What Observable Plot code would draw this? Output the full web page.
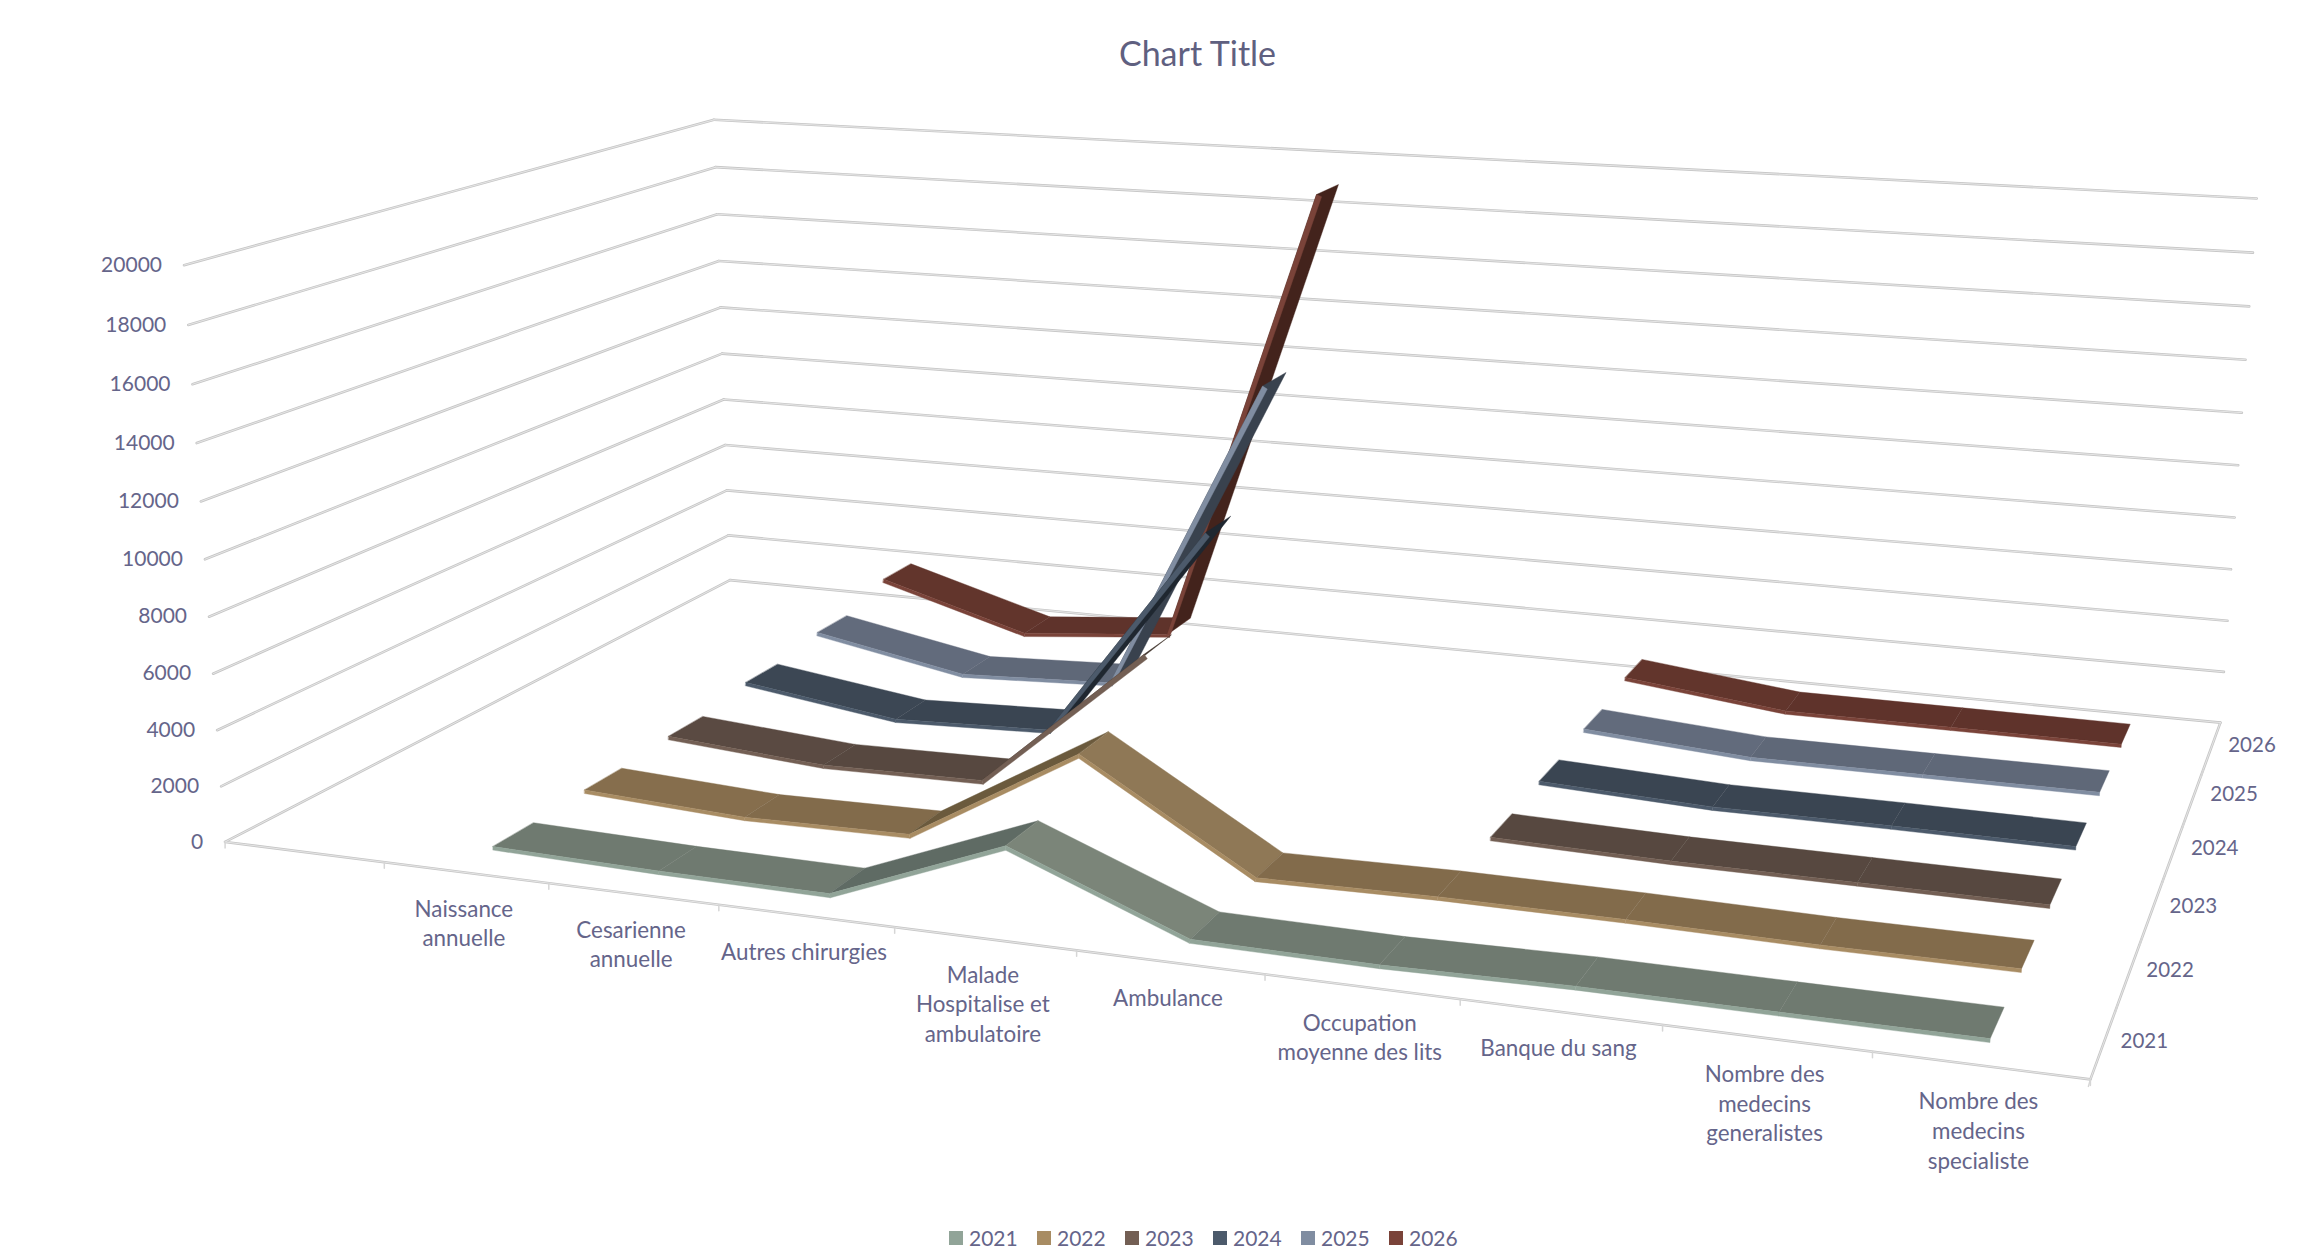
<!DOCTYPE html>
<html><head><meta charset="utf-8">
<script src="https://cdn.jsdelivr.net/npm/d3@7"></script>
<script src="https://cdn.jsdelivr.net/npm/@observablehq/plot@0.6"></script>
<style>
html,body{margin:0;padding:0;background:#fff;font-family:Lato,"Open Sans",sans-serif;color:#65658a}
#title{height:100px;width:2315px;box-sizing:border-box;padding-left:80px;text-align:center;font-size:34px;line-height:106px;color:#5f6080}
#legend{height:58px;position:relative;font-size:21px;color:#65658a}
#legend span{position:absolute;top:28px;line-height:20px}
#legend i{position:absolute;top:31px;width:14px;height:14px}
svg{display:block}
</style></head><body>
<div id="title">Chart Title</div><div id="chart"></div><div id="legend"></div>
<script>
const categories=["","Naissance\nannuelle","Cesarienne\nannuelle","Autres chirurgies","Malade\nHospitalise et\nambulatoire","Ambulance","Occupation\nmoyenne des lits","Banque du sang","Nombre des\nmedecins\ngeneralistes","Nombre des\nmedecins\nspecialiste"];
const years=[2021,2022,2023,2024,2025,2026];
const v2021=[null,287,150,98,2467,80,20,124,107,104];
const v2022=[null,390,85,163,3708,80,175,155,72,77];
const v2023=[null,560,123,213,5500,null,231,105,90,69];
const v2024=[null,911,85,305,8410,null,345,85,96,64];
const v2025=[null,1263,150,422,12620,null,491,60,76,92];
const v2026=[null,1911,186,736,18940,null,776,66,66,60];
const series=[v2021,v2022,v2023,v2024,v2025,v2026];
const legendColors=["#91a498","#a88c63","#735f54","#4c5a6b","#808da1","#7a4339"];
const surfaceColors=["#6f7a70","#826b4b","#574840","#3a4552","#5f6878","#5f332b"];
const riseColors=["#5f6b64","#6b5a3d","#3f332c","#1f2730","#39424e","#43231c"];
const fallColors=["#7b8579","#8f7856","#625148","#424e5c","#697283","#66352d"];
const valueTicks=d3.range(0,20001,2000);
const vMax=20000;

// Perspective camera of the 3-D box, fitted to the box's visible corners
const anchors=[[0,0,0,225,841],[0,1,0,729,580],[1,1,0,2220,722],[1,0,0,2090,1079],[0,0,1,183,265],[0,1,1,714,119],[1,1,1,2256,198]];
function fit(){
  const A=[],b=[];
  for(const [u,d,v,sx,sy] of anchors){const X=sx/1000,Y=sy/1000;
    A.push([u,d,v,1,0,0,0,0,-X*u,-X*d,-X*v]);b.push(X);
    A.push([0,0,0,0,u,d,v,1,-Y*u,-Y*d,-Y*v]);b.push(Y);}
  const n=11,M=d3.range(n).map(i=>d3.range(n+1).map(j=>{let s=0;for(let r=0;r<A.length;r++)s+=A[r][i]*(j<n?A[r][j]:b[r]);return s+(i===j?1e-9:0);}));
  for(let i=0;i<n;i++){let p=i;for(let r=i+1;r<n;r++)if(Math.abs(M[r][i])>Math.abs(M[p][i]))p=r;[M[i],M[p]]=[M[p],M[i]];
    for(let r=0;r<n;r++)if(r!==i){const f=M[r][i]/M[i][i];for(let c=i;c<=n;c++)M[r][c]-=f*M[i][c];}}
  return M.map((r,i)=>r[n]/r[i]);
}
const P=fit();
function proj(u,d,val){const v=val/vMax,w=P[8]*u+P[9]*d+P[10]*v+1;
  return [1000*(P[0]*u+P[1]*d+P[2]*v+P[3])/w,1000*(P[4]*u+P[5]*d+P[6]*v+P[7])/w];}

const uOf=k=>(k+0.5)/categories.length, dOf=i=>(i+0.5)/years.length;
const halfW=0.036;
const Su=1865,Sv=0.029; // px per unit of u and per unit of value, for the ribbon's thickness
function shade(hex,f){const c=d3.rgb(hex);return d3.rgb(c.r*f,c.g*f,c.b*f).formatHex();}
const polys=[];let pid=0;
function poly(pts,c){pid++;for(const p of pts)polys.push({id:pid,px:p[0],py:p[1],c});}
function segNormal(s,k){ // thickness vector of the segment k..k+1, normal to it in the (u,value) plane
  const dx=Su*(uOf(k+1)-uOf(k)),dy=Sv*(s[k+1]-s[k]),len=Math.hypot(dx,dy),st=Math.abs(dy)/len,th=1.85+1.5*st;
  return [-dy/len*th/Su,dx/len*th/Sv];
}
for(let i=years.length-1;i>=0;i--){
  const s=series[i],d=dOf(i),d0=d-halfW,d1=d+halfW;
  const segs=[];
  for(let k=0;k<s.length-1;k++) if(s[k]!=null&&s[k+1]!=null) segs.push(k);
  const off=s.map((v,k)=>{const ns=[];if(segs.includes(k-1))ns.push(segNormal(s,k-1));if(segs.includes(k))ns.push(segNormal(s,k));
    return ns.length?[d3.mean(ns,n=>n[0]),d3.mean(ns,n=>n[1])]:[0,0];});
  const top=(k,dd)=>proj(uOf(k)+off[k][0],dd,s[k]+off[k][1]);
  const bot=(k,dd)=>proj(uOf(k)-off[k][0],dd,s[k]-off[k][1]);
  for(const k of segs){
    const dv=s[k+1]-s[k];
    const c=dv>=2000?riseColors[i]:dv<=-2000?fallColors[i]:dv<-300?shade(surfaceColors[i],1.03):surfaceColors[i];
    poly([top(k,d0),top(k+1,d0),top(k+1,d1),top(k,d1)],c);
  }
  for(const k of segs) poly([top(k,d0),top(k+1,d0),bot(k+1,d0),bot(k,d0)],legendColors[i]);
}
const grid=[];let gid=0;
function seg(a,b){gid++;grid.push({id:gid,px:a[0],py:a[1]},{id:gid,px:b[0],py:b[1]});}
for(const t of valueTicks){seg(proj(0,0,t),proj(0,1,t));seg(proj(0,1,t),proj(1,1,t));}
seg(proj(0,0,0),proj(1,0,0));seg(proj(1,0,0),proj(1,1,0));
const ticks=[];let tid=0;
function tick(a,dx,dy){tid++;ticks.push({id:tid,px:a[0],py:a[1]},{id:tid,px:a[0]+dx,py:a[1]+dy});}
categories.forEach((c,k)=>tick(proj(k/categories.length,0,0),0,6));tick(proj(1,0,0),0,6);
years.forEach((y,i)=>tick(proj(1,i/years.length,0),-2,7));

const yLabels=valueTicks.map(t=>{const p=proj(0,0,t);return{px:p[0],py:p[1],t:String(t)};});
const catLabels=categories.map((c,k)=>{const p=proj(uOf(k),0,0);return{px:p[0],py:p[1],t:c};}).filter(d=>d.t);
const depthLabels=years.map((y,i)=>{const p=proj(1,dOf(i),0);return{px:p[0],py:p[1],t:String(y)};});

const TOP=100,H=1100;
const fig=Plot.plot({width:2315,height:H,margin:0,marginTop:0,marginBottom:0,marginLeft:0,marginRight:0,
  x:{domain:[0,2315],range:[0,2315],axis:null},y:{domain:[TOP,TOP+H],range:[0,H],axis:null},color:{type:"identity"},
  style:{background:"#fff",fontFamily:"Lato"},
  marks:[
    Plot.line(grid,{x:"px",y:"py",z:"id",stroke:"#c6c6c6",strokeWidth:2.6}),
    Plot.line(grid,{x:"px",y:"py",z:"id",stroke:"#eeeeee",strokeWidth:0.8}),
    Plot.line(ticks,{x:"px",y:"py",z:"id",stroke:"#d6d6d6",strokeWidth:1.5}),
    Plot.line(polys,{x:"px",y:"py",z:"id",fill:"c",stroke:"c",strokeWidth:0.4,curve:"linear-closed"}),
    Plot.text(yLabels,{x:"px",y:"py",text:"t",textAnchor:"end",dx:-22,fontSize:21,fill:"#65658a"}),
    Plot.text(catLabels,{x:"px",y:"py",text:"t",textAnchor:"middle",lineAnchor:"top",dx:-2,dy:23,lineHeight:1.32,fontSize:22.4,fill:"#65658a"}),
    Plot.text(depthLabels,{x:"px",y:"py",text:"t",textAnchor:"middle",dx:40,fontSize:20.5,fill:"#65658a"})
  ]});
document.getElementById("chart").append(fig);
const L=document.getElementById("legend");
years.forEach((y,i)=>{const x=949+88*i;
  const sw=document.createElement("i");sw.style.left=x+"px";sw.style.background=legendColors[i];L.append(sw);
  const t=document.createElement("span");t.style.left=(x+20)+"px";t.textContent=y;L.append(t);});
</script></body></html>
